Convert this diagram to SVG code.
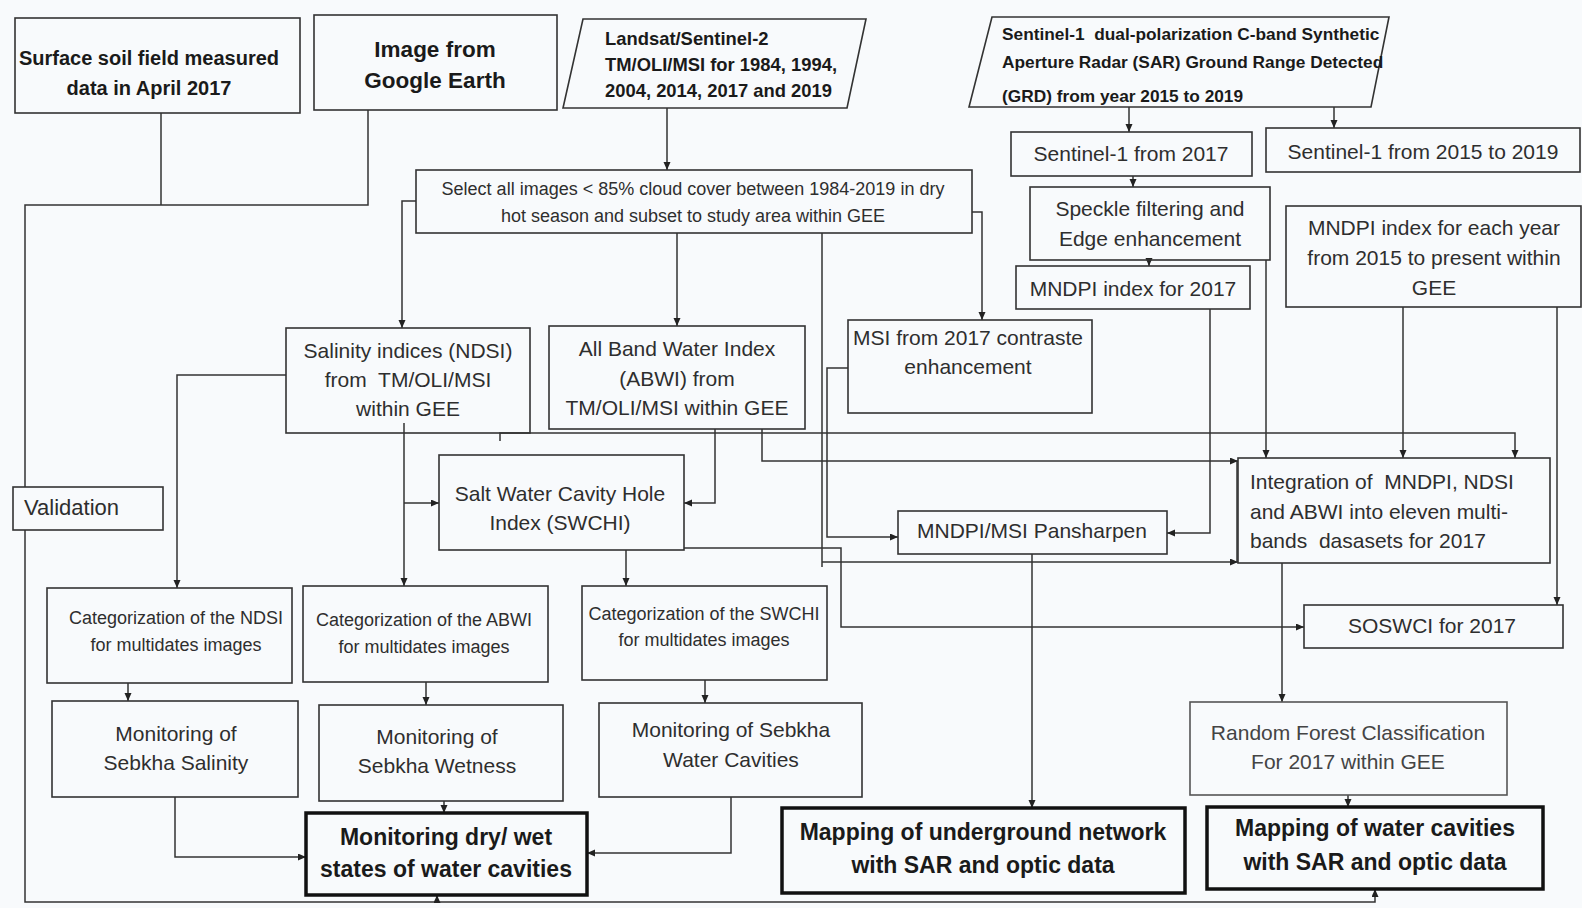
<svg xmlns="http://www.w3.org/2000/svg" width="1582" height="908" viewBox="0 0 1582 908">
<style>
.box{fill:none;stroke:#333;stroke-width:1.6}
.thick{fill:none;stroke:#111;stroke-width:3.5}
.para{fill:none;stroke:#333;stroke-width:1.6}
.c{fill:none;stroke:#333;stroke-width:1.5}
text{font-family:'Liberation Sans',Arial,sans-serif;fill:#2e2e2e;white-space:pre}
.r{font-size:21px}
.s{font-size:18px}
.b{font-weight:bold;fill:#1a1a1a}
.b17{font-size:17.3px}
.b23{font-size:23px}
.m{text-anchor:middle}
</style>
<defs>
<marker id="ah" markerUnits="userSpaceOnUse" markerWidth="9" markerHeight="8" refX="8" refY="3.5" orient="auto">
<path d="M0,0 L8,3.5 L0,7 z" fill="#222"/>
</marker>
</defs>
<rect width="1582" height="908" fill="#f8fafc"/>

<g id="connectors">
<path class="c" d="M161,113 V205"/>
<path class="c" d="M368,110 V205 H25 V487"/>
<path class="c" d="M25,530 V902 H1375 V889" marker-end="url(#ah)"/>
<path class="c" d="M437,902 V895" marker-end="url(#ah)"/>
<path class="c" d="M667,108 V170" marker-end="url(#ah)"/>
<path class="c" d="M1129,107 V132" marker-end="url(#ah)"/>
<path class="c" d="M1334,107 V128" marker-end="url(#ah)"/>
<path class="c" d="M1133,176 V187" marker-end="url(#ah)"/>
<path class="c" d="M1149,258 V266" marker-end="url(#ah)"/>
<path class="c" d="M416,201 H402 V328" marker-end="url(#ah)"/>
<path class="c" d="M677,233 V326" marker-end="url(#ah)"/>
<path class="c" d="M972,212 H982 V320" marker-end="url(#ah)"/>
<path class="c" d="M822,233 V567"/>
<path class="c" d="M822,562 H1238" marker-end="url(#ah)"/>
<path class="c" d="M848,368 H827 V537 H898" marker-end="url(#ah)"/>
<path class="c" d="M1210,309 V533 H1167" marker-end="url(#ah)"/>
<path class="c" d="M1266,260 V458" marker-end="url(#ah)"/>
<path class="c" d="M1403,307 V458" marker-end="url(#ah)"/>
<path class="c" d="M1557,307 V605" marker-end="url(#ah)"/>
<path class="c" d="M500,441 V433 H1515 V458" marker-end="url(#ah)"/>
<path class="c" d="M762,429 V461 H1238" marker-end="url(#ah)"/>
<path class="c" d="M1237,461 V562"/>
<path class="c" d="M715,429 V503 H684" marker-end="url(#ah)"/>
<path class="c" d="M286,375 H177 V588" marker-end="url(#ah)"/>
<path class="c" d="M404,423 V586" marker-end="url(#ah)"/>
<path class="c" d="M404,503 H439" marker-end="url(#ah)"/>
<path class="c" d="M626,550 V586" marker-end="url(#ah)"/>
<path class="c" d="M684,548 H841 V627 H1304" marker-end="url(#ah)"/>
<path class="c" d="M1282,563 V702" marker-end="url(#ah)"/>
<path class="c" d="M1032,554 V808" marker-end="url(#ah)"/>
<path class="c" d="M128,683 V701" marker-end="url(#ah)"/>
<path class="c" d="M426,682 V705" marker-end="url(#ah)"/>
<path class="c" d="M705,680 V703" marker-end="url(#ah)"/>
<path class="c" d="M175,797 V857 H306" marker-end="url(#ah)"/>
<path class="c" d="M444,801 V813" marker-end="url(#ah)"/>
<path class="c" d="M731,797 V853 H587" marker-end="url(#ah)"/>
<path class="c" d="M1348,795 V807" marker-end="url(#ah)"/>
</g>

<g id="n_soil">
<rect class="box" x="15" y="18" width="285" height="95"/>
<text class="b m" style="font-size:20px" x="149" y="65">Surface soil field measured</text>
<text class="b m" style="font-size:20px" x="149" y="95">data in April 2017</text>
</g>
<g id="n_ge">
<rect class="box" x="314" y="15" width="243" height="95"/>
<text class="b m" style="font-size:22.5px" x="435" y="57">Image from</text>
<text class="b m" style="font-size:22.5px" x="435" y="88">Google Earth</text>
</g>
<g id="n_landsat">
<polygon class="para" points="583,19 866,19 847,108 563,108"/>
<text class="b" style="font-size:18.4px" x="605" y="45">Landsat/Sentinel-2</text>
<text class="b" style="font-size:18.4px" x="605" y="71">TM/OLI/MSI for 1984, 1994,</text>
<text class="b" style="font-size:18.4px" x="605" y="97">2004, 2014, 2017 and 2019</text>
</g>
<g id="n_s1">
<polygon class="para" points="992,17 1389,17 1371,107 969,107"/>
<text class="b b17" x="1002" y="40">Sentinel-1  dual-polarization C-band Synthetic</text>
<text class="b b17" x="1002" y="68">Aperture Radar (SAR) Ground Range Detected</text>
<text class="b b17" x="1002" y="102">(GRD) from year 2015 to 2019</text>
</g>
<g id="n_s2017">
<rect class="box" x="1011" y="132" width="241" height="44"/>
<text class="r m" x="1131" y="161">Sentinel-1 from 2017</text>
</g>
<g id="n_s1519">
<rect class="box" x="1266" y="128" width="314" height="44"/>
<text class="r m" x="1423" y="159">Sentinel-1 from 2015 to 2019</text>
</g>
<g id="n_select">
<rect class="box" x="416" y="170" width="556" height="63"/>
<text class="s m" x="693" y="195">Select all images &lt; 85% cloud cover between 1984-2019 in dry</text>
<text class="s m" x="693" y="222">hot season and subset to study area within GEE</text>
</g>
<g id="n_speckle">
<rect class="box" x="1030" y="187" width="240" height="73"/>
<text class="r m" x="1150" y="216">Speckle filtering and</text>
<text class="r m" x="1150" y="246">Edge enhancement</text>
</g>
<g id="n_m2017">
<rect class="box" x="1016" y="266" width="234" height="43"/>
<text class="r m" x="1133" y="296">MNDPI index for 2017</text>
</g>
<g id="n_myear">
<rect class="box" x="1286" y="206" width="295" height="101"/>
<text class="r m" x="1434" y="235">MNDPI index for each year</text>
<text class="r m" x="1434" y="265">from 2015 to present within</text>
<text class="r m" x="1434" y="295">GEE</text>
</g>
<g id="n_sal">
<rect class="box" x="286" y="328" width="244" height="105"/>
<text class="r m" x="408" y="358">Salinity indices (NDSI)</text>
<text class="r m" x="408" y="387">from  TM/OLI/MSI</text>
<text class="r m" x="408" y="416">within GEE</text>
</g>
<g id="n_abwi">
<rect class="box" x="549" y="326" width="256" height="103"/>
<text class="r m" x="677" y="356">All Band Water Index</text>
<text class="r m" x="677" y="386">(ABWI) from</text>
<text class="r m" x="677" y="415">TM/OLI/MSI within GEE</text>
</g>
<g id="n_msi">
<rect class="box" x="848" y="320" width="244" height="93"/>
<text class="r m" x="968" y="345">MSI from 2017 contraste</text>
<text class="r m" x="968" y="374">enhancement</text>
</g>
<g id="n_val">
<rect class="box" x="13" y="487" width="150" height="43"/>
<text class="r" style="font-size:22px" x="24" y="515">Validation</text>
</g>
<g id="n_swchi">
<rect class="box" x="439" y="455" width="245" height="95"/>
<text class="r m" x="560" y="501">Salt Water Cavity Hole</text>
<text class="r m" x="560" y="530">Index (SWCHI)</text>
</g>
<g id="n_pan">
<rect class="box" x="898" y="511" width="269" height="43"/>
<text class="r m" x="1032" y="538">MNDPI/MSI Pansharpen</text>
</g>
<g id="n_int">
<rect class="box" x="1238" y="458" width="312" height="105"/>
<text class="r" x="1250" y="489">Integration of  MNDPI, NDSI</text>
<text class="r" x="1250" y="519">and ABWI into eleven multi-</text>
<text class="r" x="1250" y="548">bands  dasasets for 2017</text>
</g>
<g id="n_sos">
<rect class="box" x="1304" y="605" width="259" height="43"/>
<text class="r m" x="1432" y="633">SOSWCI for 2017</text>
</g>
<g id="n_cndsi">
<rect class="box" x="47" y="588" width="245" height="95"/>
<text class="s m" x="176" y="624">Categorization of the NDSI</text>
<text class="s m" x="176" y="651">for multidates images</text>
</g>
<g id="n_cabwi">
<rect class="box" x="303" y="586" width="245" height="96"/>
<text class="s m" x="424" y="626">Categorization of the ABWI</text>
<text class="s m" x="424" y="653">for multidates images</text>
</g>
<g id="n_cswchi">
<rect class="box" x="582" y="586" width="245" height="94"/>
<text class="s m" x="704" y="620">Categorization of the SWCHI</text>
<text class="s m" x="704" y="646">for multidates images</text>
</g>
<g id="n_msal">
<rect class="box" x="52" y="701" width="246" height="96"/>
<text class="r m" x="176" y="741">Monitoring of</text>
<text class="r m" x="176" y="770">Sebkha Salinity</text>
</g>
<g id="n_mwet">
<rect class="box" x="319" y="705" width="244" height="96"/>
<text class="r m" x="437" y="744">Monitoring of</text>
<text class="r m" x="437" y="773">Sebkha Wetness</text>
</g>
<g id="n_mcav">
<rect class="box" x="599" y="703" width="263" height="94"/>
<text class="r m" x="731" y="737">Monitoring of Sebkha</text>
<text class="r m" x="731" y="767">Water Cavities</text>
</g>
<g id="n_rf">
<rect class="box" x="1190" y="702" width="317" height="93" style="stroke:#555"/>
<text class="r m" x="1348" y="740" style="fill:#444">Random Forest Classification</text>
<text class="r m" x="1348" y="769" style="fill:#444">For 2017 within GEE</text>
</g>
<g id="n_dry">
<rect class="thick" x="306" y="813" width="281" height="82"/>
<text class="b b23 m" x="446" y="845">Monitoring dry/ wet</text>
<text class="b b23 m" x="446" y="877">states of water cavities</text>
</g>
<g id="n_mun">
<rect class="thick" x="782" y="808" width="403" height="85"/>
<text class="b b23 m" x="983" y="840">Mapping of underground network</text>
<text class="b b23 m" x="983" y="873">with SAR and optic data</text>
</g>
<g id="n_mwc">
<rect class="thick" x="1207" y="807" width="336" height="82"/>
<text class="b b23 m" x="1375" y="836">Mapping of water cavities</text>
<text class="b b23 m" x="1375" y="870">with SAR and optic data</text>
</g>
</svg>
